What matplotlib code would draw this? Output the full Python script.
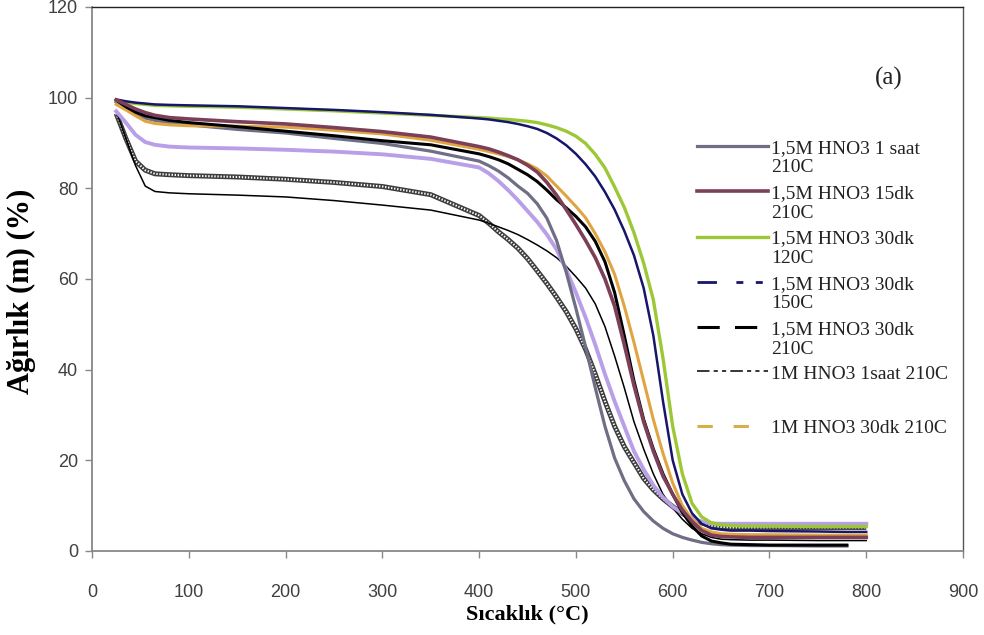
import numpy as np
import matplotlib
matplotlib.use('Agg')
import matplotlib.pyplot as plt
from matplotlib.lines import Line2D
from matplotlib.legend_handler import HandlerLine2D

plt.rcParams['lines.scale_dashes'] = False

# TGA curves: temperature (C) and weight (%)
temps = [25, 35, 45, 55, 65, 80, 100, 150, 200, 250, 300, 350,
         400, 410, 420, 430, 440, 450, 460, 470, 480, 490, 500, 510, 520, 530,
         540, 550, 560, 570, 580, 590, 600, 610, 620, 630, 640, 650, 660,
         680, 700, 750, 780, 800]
nan = float('nan')

w_1saat_210 = [99.0, 97.5, 96.3, 95.5, 95.0, 94.5, 94.0, 93.0, 92.2, 91.0, 89.9, 88.2,
               86.0, 85.0, 83.8, 82.3, 80.5, 78.9, 76.6, 73.4, 68.5, 61.5, 53.5, 45.0,
               36.0, 27.5, 20.5, 15.5, 11.5, 8.7, 6.6, 5.0, 3.8, 3.0, 2.4, 1.9, 1.6,
               1.4, 1.3, 1.2, 1.2, 1.1, 1.1, nan]
w_15dk_210 = [99.5, 98.5, 97.5, 96.7, 96.1, 95.6, 95.3, 94.7, 94.2, 93.4, 92.5, 91.3,
              89.2, 88.7, 88.0, 87.2, 86.3, 85.1, 83.6, 81.3, 78.5, 75.3, 72.0, 68.5,
              64.7, 60.0, 54.0, 45.5, 36.5, 28.5, 22.0, 16.5, 12.5, 9.0, 6.5, 4.5, 3.5,
              3.2, 3.1, 3.0, 3.0, 3.0, 3.0, 3.0]
w_30dk_120 = [99.4, 99.0, 98.7, 98.5, 98.3, 98.2, 98.1, 97.9, 97.5, 97.1, 96.6, 96.1,
              95.6, 95.5, 95.3, 95.2, 95.0, 94.8, 94.5, 94.0, 93.4, 92.6, 91.5, 89.9,
              87.5, 84.5, 80.3, 75.8, 70.2, 63.5, 55.4, 42.5, 27.5, 17.0, 10.5, 7.5, 6.2,
              5.8, 5.6, 5.5, 5.5, 5.4, 5.4, 5.4]
w_30dk_150 = [99.6, 99.2, 98.9, 98.7, 98.5, 98.4, 98.3, 98.1, 97.7, 97.3, 96.8, 96.2,
              95.4, 95.2, 94.9, 94.6, 94.2, 93.7, 93.1, 92.2, 91.0, 89.5, 87.6, 85.3,
              82.6, 79.2, 75.3, 70.6, 65.2, 58.0, 47.5, 33.0, 20.0, 12.5, 8.3, 6.0, 5.0,
              4.7, 4.5, 4.5, 4.4, 4.3, 4.2, 4.2]
w_30dk_210 = [99.5, 98.0, 96.8, 96.0, 95.6, 95.0, 94.5, 93.6, 92.6, 91.6, 90.5, 89.6,
              87.6, 87.0, 86.3, 85.4, 84.2, 83.0, 81.5, 79.6, 77.5, 75.7, 73.8, 71.5,
              68.3, 63.8, 57.0, 47.5, 37.5, 29.0, 22.5, 17.0, 12.5, 8.5, 5.5, 3.3, 2.2,
              1.8, 1.5, 1.4, 1.3, 1.3, 1.3, nan]
w_1m_1saat = [97.0, 91.0, 85.0, 80.5, 79.3, 79.0, 78.8, 78.5, 78.1, 77.3, 76.3, 75.2,
              73.0, 72.3, 71.5, 70.7, 69.8, 68.7, 67.5, 66.2, 64.7, 62.8, 60.5, 58.0,
              54.5, 49.5, 43.0, 36.0, 28.5, 22.5, 17.0, 12.5, 9.5, 7.0, 5.0, 3.8, 3.0,
              2.6, 2.5, 2.4, 2.4, 2.3, 2.3, 2.3]
w_1m_30dk = [98.5, 97.3, 96.0, 94.8, 94.3, 94.0, 93.8, 93.7, 93.5, 92.8, 92.0, 90.6,
             88.6, 88.1, 87.6, 87.0, 86.3, 85.4, 84.3, 82.7, 80.5, 78.3, 76.0, 73.5,
             70.0, 66.0, 61.0, 54.0, 46.0, 37.5, 29.0, 21.5, 15.0, 10.0, 7.0, 5.0, 4.2,
             3.8, 3.7, 3.6, 3.6, 3.5, 3.5, 3.5]
# two more curves drawn but missing from the legend
w_purple = [97.0, 94.5, 91.8, 90.2, 89.6, 89.2, 89.0, 88.8, 88.5, 88.1, 87.5, 86.5,
            84.6, 83.3, 81.6, 79.6, 77.4, 75.0, 72.6, 69.8, 66.5, 62.0, 57.0, 51.5,
            45.5, 39.0, 33.0, 27.5, 22.0, 18.0, 14.5, 11.8, 9.8, 8.3, 7.2, 6.5, 6.1,
            6.0, 6.0, 6.0, 6.0, 6.0, 6.0, 6.0]
w_hatched = [96.5, 91.0, 86.0, 84.0, 83.2, 83.0, 82.8, 82.5, 82.0, 81.3, 80.4, 78.6,
             74.0, 72.3, 70.4, 68.7, 66.8, 64.5, 61.8, 59.0, 56.0, 52.8, 49.0, 44.5,
             39.0, 33.0, 27.5, 23.0, 19.5, 16.0, 13.5, 11.5, 9.8, 8.3, 7.1, 6.2, 5.6,
             5.3, 5.2, 5.2, 5.2, 5.2, 5.2, 5.2]

labels = ['1,5M HNO3 1 saat\n210C', '1,5M HNO3 15dk\n210C', '1,5M HNO3 30dk\n120C',
          '1,5M HNO3 30dk\n150C', '1,5M HNO3 30dk\n210C', '1M HNO3 1saat 210C\n ',
          '1M HNO3 30dk 210C']

c_gray = '#6e6e84'
c_maroon = '#7b3f58'
c_green = '#9cc838'
c_navy = '#16166a'
c_orange = '#e0a443'

fig = plt.figure(figsize=(9.84, 6.35), dpi=100)
ax = fig.add_axes([0.0935, 0.1323, 0.8852, 0.8567])

# patterned curve: dark line with white dots on top
ax.plot(temps, w_hatched, color='#3c3c3c', lw=3.6, solid_capstyle='butt')
ax.plot(temps, w_hatched, color='white', lw=1.5, ls=(0, (1.0, 1.2)))
ax.plot(temps, w_1m_1saat, color='black', lw=1.1)
ax.plot(temps, w_purple, color='#b99fe8', lw=2.8)
ax.plot(temps, w_1saat_210, color=c_gray, lw=2.3)
ax.plot(temps, w_30dk_120, color=c_green, lw=2.4)
ax.plot(temps, w_30dk_150, color=c_navy, lw=1.8)
ax.plot(temps, w_1m_30dk, color=c_orange, lw=2.2)
ax.plot(temps, w_30dk_210, color='black', lw=2.2)
ax.plot(temps, w_15dk_210, color=c_maroon, lw=2.6)

ax.set_xlim(0, 900)
ax.set_ylim(0, 120)
ax.set_xticks(range(0, 901, 100))
ax.set_yticks(range(0, 121, 20))

for lab in ax.get_xticklabels() + ax.get_yticklabels():
    lab.set_fontfamily('Liberation Sans')
    lab.set_fontsize(13)
ax.tick_params(axis='x', direction='out', length=5, width=1, color='#888888',
               pad=19, labelcolor='#404040')
ax.tick_params(axis='y', direction='out', length=5, width=1, color='#888888',
               pad=5, labelcolor='#404040')

for side in ['left', 'bottom']:
    ax.spines[side].set_color('#888888')
    ax.spines[side].set_linewidth(1.3)
ax.spines['top'].set_color('#222222')
ax.spines['right'].set_color('#555555')
ax.spines['top'].set_linewidth(1.0)
ax.spines['right'].set_linewidth(1.0)

ax.set_xlabel('Sıcaklık (°C)', fontfamily='Liberation Serif', fontweight='bold',
              fontsize=16)
ax.set_ylabel('Ağırlık (m) (%)', fontfamily='Liberation Serif', fontweight='bold',
              fontsize=22)
ax.xaxis.set_label_coords(0.5, -0.099)
ax.yaxis.set_label_coords(-0.064, 0.478)

ax.text(823, 104.3, '(a)', fontfamily='Liberation Serif', fontsize=18,
        ha='center', va='center', color='#222222')


class FirstLineHandler(HandlerLine2D):
    # put the legend sample level with the first line of a two-line label
    def __init__(self, shift, **kw):
        super().__init__(**kw)
        self.shift = shift

    def create_artists(self, legend, orig_handle, xdescent, ydescent, width, height,
                       fontsize, trans):
        arts = super().create_artists(legend, orig_handle, xdescent, ydescent, width,
                                      height, fontsize, trans)
        for a in arts:
            a.set_ydata(np.asarray(a.get_ydata()) + self.shift)
        return arts


handles = [
    Line2D([], [], color=c_gray, lw=2.3),
    Line2D([], [], color=c_maroon, lw=2.6),
    Line2D([], [], color=c_green, lw=2.4),
    Line2D([], [], color=c_navy, lw=2.0, ls=(0, (14, 14, 5, 9, 5, 9))),
    Line2D([], [], color='black', lw=2.2, ls=(0, (16, 11))),
    Line2D([], [], color='black', lw=1.1, ls=(0, (9, 3, 3, 3, 3, 3))),
    Line2D([], [], color='#d8ae4c', lw=2.2, ls=(0, (11, 15))),
]
legend_fs = 14
last_spacing = 1.75
hmap = {h: FirstLineHandler(0.6 * legend_fs) for h in handles[:5]}
hmap[handles[5]] = FirstLineHandler(0.5 * last_spacing * legend_fs)
leg = ax.legend(handles, labels, handler_map=hmap, loc='upper left',
                bbox_to_anchor=(0.695, 0.756), frameon=False, borderpad=0,
                borderaxespad=0, handlelength=3.65, handletextpad=0.15,
                labelspacing=0.45,
                prop=dict(family='Liberation Serif', size=legend_fs))
for t in leg.get_texts():
    t.set_color('#222222')
leg.get_texts()[5].set_linespacing(last_spacing)

fig.savefig('out.png', dpi=100)
